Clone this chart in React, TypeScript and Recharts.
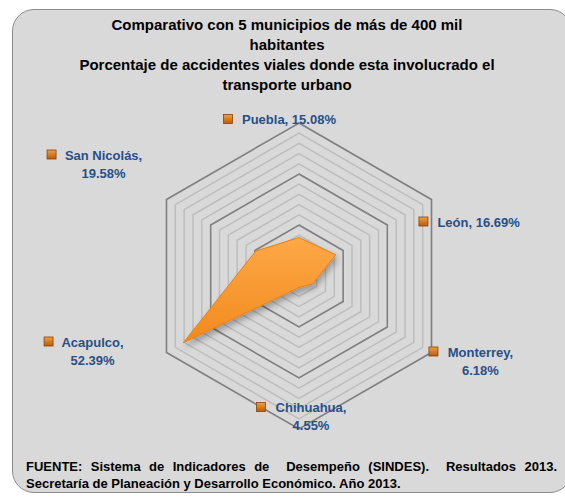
import { RadarChart, Radar, PolarGrid, PolarAngleAxis, PolarRadiusAxis } from "recharts";

const cities = ["Puebla", "León", "Monterrey", "Chihuahua", "Acapulco", "San Nicolás"];
const shares = [15.08, 16.69, 6.18, 4.55, 52.39, 19.58];
const minorTicks = [0, 4, 8, 12, 16, 20, 24, 28, 32, 36, 40, 44, 48, 52, 56, 60];
const majorTicks = [0, 20, 40, 60];
const titleLines = [
  "Comparativo con 5 municipios de más de 400 mil",
  "habitantes",
  "Porcentaje de accidentes viales donde esta involucrado el",
  "transporte urbano",
];
const sourceLines = [
  "FUENTE: Sistema de Indicadores de\u00a0 Desempeño (SINDES).\u00a0 Resultados 2013.",
  "Secretaría de Planeación y Desarrollo Económico. Año 2013.",
];

const data = cities.map((city, i) => ({ city, value: shares[i] }));

const FONT = "'Liberation Sans', Arial, sans-serif";
const BLUE = "#284f89";
const chartProps = {
  width: 565, height: 498, data, cx: 299, cy: 276, outerRadius: 153,
  startAngle: 90, endAngle: -270, margin: { top: 0, right: 0, bottom: 0, left: 0 },
};

// where each label sits relative to the tick point recharts gives us
const labelPos = [
  { dx: -71, dy: 4, split: false, tc: 0 },
  { dx: -15, dy: 26, split: false, tc: 0 },
  { dx: -5, dy: -5, split: true, tc: 47 },
  { dx: -38, dy: -30, split: true, tc: 50 },
  { dx: -111, dy: -15, split: true, tc: 44 },
  { dx: -108, dy: -41, split: true, tc: 52 },
];

const CityTick = ({ x, y, payload }: any) => {
  const i = cities.indexOf(payload.value);
  const pos = labelPos[i];
  const mx = x + pos.dx;
  const my = y + pos.dy;
  const pct = `${shares[i].toFixed(2)}%`;
  return (
    <g>
      <rect x={mx - 4.5} y={my - 4.5} width={9} height={9} fill="url(#markerGrad)" stroke="#8a4208" strokeWidth={0.8} />
      {pos.split ? (
        <text textAnchor="middle" fill={BLUE} fontFamily={FONT} fontWeight="bold" fontSize={13}>
          <tspan x={mx + pos.tc} y={my + 5}>{payload.value},</tspan>
          <tspan x={mx + pos.tc} y={my + 23}>{pct}</tspan>
        </text>
      ) : (
        <text x={mx + 14} y={my + 5} textAnchor="start" fill={BLUE} fontFamily={FONT} fontWeight="bold" fontSize={13}>
          {`${payload.value}, ${pct}`}
        </text>
      )}
    </g>
  );
};

const layer = { position: "absolute" as const, left: 0, top: 0 };

export default function App() {
  return (
    <div style={{ position: "absolute", left: 0, top: 0, width: 565, height: 498, background: "#fff", overflow: "hidden" }}>
      <div
        style={{
          position: "absolute", left: 12, top: 9, width: 560, height: 484,
          background: "#d9d9d9", border: "1.5px solid #8c8c8c", borderRadius: 22, boxSizing: "border-box",
        }}
      />
      <div
        style={{
          position: "absolute", left: 12, top: 15, width: 550, textAlign: "center",
          fontFamily: FONT, fontWeight: "bold", fontSize: 15, lineHeight: "20px", color: "#000",
        }}
      >
        {titleLines.map((t) => <div key={t}>{t}</div>)}
      </div>
      {/* minor gridlines (the invisible series gives the grid its axes) */}
      <div style={layer}>
        <RadarChart {...chartProps}>
          <PolarGrid gridType="polygon" radialLines={false} stroke="#bdbdbd" strokeWidth={1.5} />
          <PolarAngleAxis dataKey="city" tick={false} axisLine={false} tickLine={false} />
          <PolarRadiusAxis domain={[0, 60]} ticks={minorTicks} tick={false} axisLine={false} />
          <Radar dataKey="value" stroke="none" fill="none" isAnimationActive={false} />
        </RadarChart>
      </div>
      {/* major gridlines, labels and the series */}
      <div style={layer}>
        <RadarChart {...chartProps}>
          <defs>
            <linearGradient id="radarGrad" x1="0" y1="0" x2="0" y2="1">
              <stop offset="0%" stopColor="#fda846" />
              <stop offset="100%" stopColor="#f28a1e" />
            </linearGradient>
            <linearGradient id="markerGrad" x1="0" y1="0" x2="0" y2="1">
              <stop offset="0%" stopColor="#f0a040" />
              <stop offset="100%" stopColor="#b85a10" />
            </linearGradient>
            <filter id="radarShadow" x="-20%" y="-20%" width="140%" height="140%">
              <feDropShadow dx="2" dy="4" stdDeviation="3" floodColor="#000" floodOpacity="0.3" />
            </filter>
          </defs>
          <PolarGrid gridType="polygon" radialLines={false} stroke="#808080" strokeWidth={1.5} />
          <PolarAngleAxis dataKey="city" tick={<CityTick />} axisLine={false} tickLine={false} />
          <PolarRadiusAxis domain={[0, 60]} ticks={majorTicks} tick={false} axisLine={false} />
          <Radar dataKey="value" stroke="#e5801a" strokeWidth={1} fill="url(#radarGrad)"
            fillOpacity={1} filter="url(#radarShadow)" isAnimationActive={false} />
        </RadarChart>
      </div>
      <div
        style={{
          position: "absolute", left: 26, top: 458, width: 531,
          fontFamily: FONT, fontWeight: "bold", fontSize: 13, lineHeight: "17px", color: "#000",
        }}
      >
        <div style={{ textAlign: "justify", textAlignLast: "justify", whiteSpace: "pre-wrap" }}>{sourceLines[0]}</div>
        <div>{sourceLines[1]}</div>
      </div>
    </div>
  );
}
